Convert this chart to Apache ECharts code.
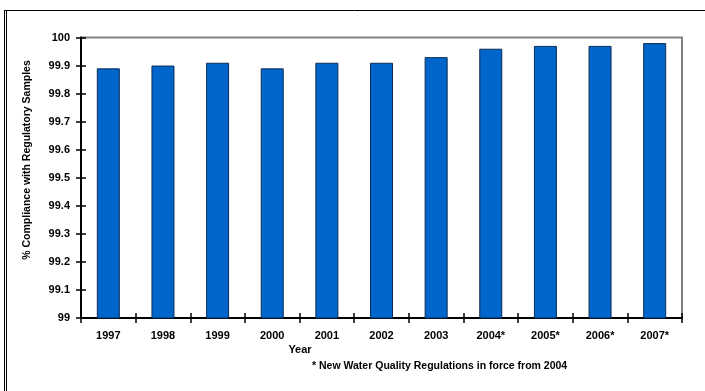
<!DOCTYPE html>
<html>
<head>
<meta charset="utf-8">
<script src="https://cdn.jsdelivr.net/npm/echarts@6/dist/echarts.min.js"></script>
<style>
  html, body { margin: 0; padding: 0; background: #fff; }
  #chart { width: 705px; height: 391px; }
</style>
</head>
<body>
<div id="chart"></div>
<script>
// Annual compliance with regulatory samples (%)
const years = ['1997', '1998', '1999', '2000', '2001', '2002', '2003', '2004*', '2005*', '2006*', '2007*'];
const compliance = [99.89, 99.90, 99.91, 99.89, 99.91, 99.91, 99.93, 99.96, 99.97, 99.97, 99.98];
const yTicks = ['99', '99.1', '99.2', '99.3', '99.4', '99.5', '99.6', '99.7', '99.8', '99.9', '100'];

const yMin = 99, yMax = 100, yStep = 0.1;
const font = 'Liberation Sans, Arial, sans-serif';

const chart = echarts.init(document.getElementById('chart'), null, { renderer: 'canvas' });

const labelFromIndex = v => {
  const i = Math.round((v - yMin) / yStep);
  return yTicks[i] !== undefined ? yTicks[i] : '';
};

chart.setOption({
  animation: false,
  backgroundColor: '#fff',
  grid: {
    left: 81, top: 37.5, width: 601, height: 280.5,
    show: true, borderColor: '#808080', borderWidth: 2, backgroundColor: 'transparent'
  },
  xAxis: [
    {
      type: 'category', data: years, position: 'bottom',
      axisLine: { lineStyle: { color: '#000', width: 2 } },
      axisTick: { show: true, inside: false, length: 5, lineStyle: { color: '#000', width: 1.5 } },
      axisLabel: { color: '#000', fontFamily: font, fontSize: 11, fontWeight: 'bold', margin: 12 },
      splitLine: { show: false }
    },
    {
      type: 'category', data: years, position: 'bottom', gridIndex: 0,
      axisLine: { show: false },
      axisTick: { show: true, inside: true, length: 5, lineStyle: { color: '#000', width: 1.5 } },
      axisLabel: { show: false },
      splitLine: { show: false }
    }
  ],
  yAxis: [
    {
      type: 'value', min: yMin, max: yMax, interval: yStep, position: 'left',
      axisLine: { show: true, lineStyle: { color: '#000', width: 2 } },
      axisTick: { show: true, inside: false, length: 5, lineStyle: { color: '#000', width: 1.5 } },
      axisLabel: { color: '#000', fontFamily: font, fontSize: 11, fontWeight: 'bold', margin: 11, formatter: labelFromIndex },
      splitLine: { show: false }
    },
    {
      type: 'value', min: yMin, max: yMax, interval: yStep, position: 'left', offset: 0,
      axisLine: { show: false },
      axisTick: { show: true, inside: true, length: 5, lineStyle: { color: '#000', width: 1.5 } },
      axisLabel: { show: false },
      splitLine: { show: false }
    }
  ],
  series: [{
    type: 'bar',
    data: compliance,
    xAxisIndex: 0, yAxisIndex: 0,
    barWidth: 23,
    itemStyle: { color: '#0066cc', borderColor: '#0a2a55', borderWidth: 1 },
    z: 1
  }],
  graphic: [
    // frame around the chart
    { type: 'line', shape: { x1: 4.5, y1: 10.5, x2: 4.5, y2: 391 }, style: { stroke: '#000', lineWidth: 1 } },
    { type: 'line', shape: { x1: 6.5, y1: 10.5, x2: 6.5, y2: 391 }, style: { stroke: '#000', lineWidth: 1 } },
    { type: 'line', shape: { x1: 4, y1: 10.5, x2: 705, y2: 10.5 }, style: { stroke: '#000', lineWidth: 1 } },
    // axis titles and note
    {
      type: 'text', x: 27, y: 160, rotation: Math.PI / 2,
      style: {
        text: '% Compliance with Regulatory Samples', fill: '#000',
        font: 'bold 10.5px ' + font, textAlign: 'center', textVerticalAlign: 'middle'
      }
    },
    {
      type: 'text', x: 300, y: 350,
      style: { text: 'Year', fill: '#000', font: 'bold 11px ' + font, textAlign: 'center', textVerticalAlign: 'middle' }
    },
    {
      type: 'text', x: 312, y: 366,
      style: {
        text: '* New Water Quality Regulations in force from 2004',
        fill: '#000', font: 'bold 10.5px ' + font, textAlign: 'left', textVerticalAlign: 'middle'
      }
    }
  ]
});
</script>
</body>
</html>
